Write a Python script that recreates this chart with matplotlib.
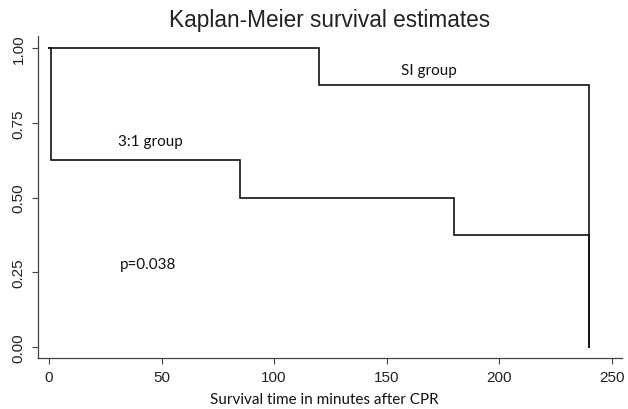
import numpy as np
import matplotlib.pyplot as plt

# Kaplan-Meier step data
si_time = [0, 120, 240]
si_surv = [1.0, 0.875, 0.0]

g31_time = [0, 1, 85, 180, 240]
g31_surv = [1.0, 0.625, 0.5, 0.375, 0.0]

x_ticks = [0, 50, 100, 150, 200, 250]
y_ticks = [0.00, 0.25, 0.50, 0.75, 1.00]
y_tick_labels = ["0.00", "0.25", "0.50", "0.75", "1.00"]

label_font = ["Lato", "DejaVu Sans"]
tick_font = ["Liberation Sans", "DejaVu Sans"]


def step_xy(times, surv):
    # build the step path: drop happens at each event time
    x = [times[0]]
    y = [surv[0]]
    for t, s in zip(times[1:], surv[1:]):
        x += [t, t]
        y += [y[-1], s]
    return x, y


W, H = 628, 410
fig = plt.figure(figsize=(W / 100, H / 100), dpi=100)
# axes box in pixels: left 38, right 622, top 37, bottom 359
ax = fig.add_axes([38 / W, 1 - 359 / H, (622 - 38) / W, (359 - 37) / H])

x, y = step_xy(si_time, si_surv)
ax.plot(x, y, color="#111111", lw=1.2, solid_joinstyle="miter")
x, y = step_xy(g31_time, g31_surv)
ax.plot(x, y, color="#111111", lw=1.2, solid_joinstyle="miter")

ax.set_xlim(-4.9, 254.6)
ax.set_ylim(-0.0357, 1.040)

for s in ["top", "right"]:
    ax.spines[s].set_visible(False)
for s in ["left", "bottom"]:
    ax.spines[s].set_color("#444444")
    ax.spines[s].set_linewidth(0.9)

ax.set_xticks(x_ticks)
ax.set_yticks(y_ticks)
ax.set_yticklabels(y_tick_labels, rotation=90, va="center")
ax.tick_params(direction="out", length=4.5, width=0.8, color="#444444",
               labelsize=11, pad=4.5)
for lab in ax.get_xticklabels() + ax.get_yticklabels():
    lab.set_family(tick_font)
    lab.set_color("#222222")

ax.text(169, 0.927, "SI group", ha="center", va="center",
        fontsize=11, family=label_font, color="#111111")
ax.text(45, 0.688, "3:1 group", ha="center", va="center",
        fontsize=11, family=label_font, color="#111111")
ax.text(44, 0.279, "p=0.038", ha="center", va="center",
        fontsize=11, family=label_font, color="#111111")

fig.text(330 / W, 1 - 20 / H, "Kaplan-Meier survival estimates",
         ha="center", va="center", fontsize=16.3, family=tick_font,
         color="#222222")
fig.text(324 / W, 1 - 400 / H, "Survival time in minutes after CPR",
         ha="center", va="center", fontsize=11, family=label_font,
         color="#111111")

fig.savefig("out.png", dpi=100)
